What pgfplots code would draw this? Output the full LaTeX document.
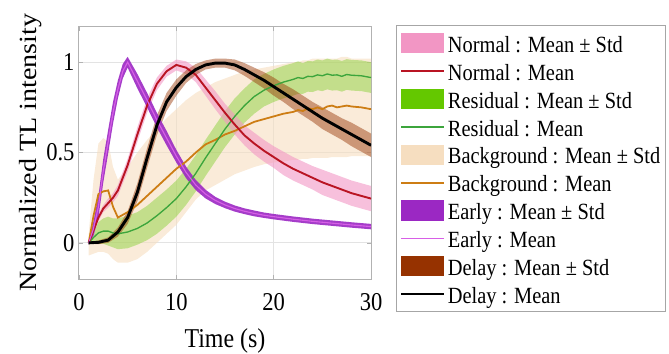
\documentclass[border=0pt]{standalone}
\usepackage{fontspec}
\setmainfont{Liberation Serif}[FakeStretch=0.88]
\newfontfamily\plainserif{Liberation Serif}
\usepackage{graphicx}
\usepackage{pgfplots}
\pgfplotsset{compat=1.18}
\usepackage{pgfplotstable}
\usepgfplotslibrary{fillbetween}

\definecolor{pinkc}{RGB}{242,150,196}
\definecolor{redc}{RGB}{185,20,35}
\definecolor{greenc}{RGB}{100,200,0}
\definecolor{greenl}{RGB}{60,165,60}
\definecolor{beigec}{RGB}{246,222,192}
\definecolor{orangel}{RGB}{205,125,20}
\definecolor{purplec}{RGB}{155,40,195}
\definecolor{earlyl}{RGB}{215,95,230}
\definecolor{brownc}{RGB}{150,50,0}

\pgfplotstableread{
t m s
1 0 0.01
1.5 0.08 0.04
2 0.2 0.06
2.5 0.4 0.065
3 0.56 0.065
3.5 0.72 0.06
4 0.85 0.05
4.5 0.95 0.04
5 1.0 0.03
6 0.895 0.04
7 0.79 0.04
8 0.68 0.04
9 0.58 0.04
10 0.48 0.035
11 0.39 0.032
12 0.32 0.028
13 0.27 0.024
14 0.235 0.02
15 0.21 0.018
16 0.19 0.017
17 0.175 0.016
18 0.163 0.016
19 0.153 0.015
20 0.145 0.015
22 0.131 0.015
24 0.119 0.015
26 0.109 0.015
28 0.099 0.015
30 0.09 0.015
}\early

\pgfplotstableread{
t m s
1 0 0.005
1.5 0.07 0.015
2 0.14 0.02
2.5 0.19 0.02
3 0.22 0.025
3.5 0.25 0.025
4 0.29 0.03
5 0.43 0.035
6 0.6 0.04
7 0.76 0.04
8 0.88 0.035
9 0.95 0.03
10 0.985 0.03
11 0.97 0.035
12 0.93 0.04
13 0.86 0.045
14 0.79 0.05
15 0.72 0.05
16 0.655 0.055
17 0.595 0.055
18 0.55 0.06
19 0.51 0.06
20 0.475 0.06
21 0.44 0.065
22 0.41 0.065
23 0.385 0.065
24 0.36 0.065
25 0.335 0.07
26 0.315 0.07
27 0.295 0.07
28 0.275 0.07
29 0.26 0.07
30 0.245 0.07
}\normal

\pgfplotstableread{
t m s
1 0 0.005
2 0.003 0.01
3 0.015 0.015
4 0.06 0.025
5 0.14 0.035
6 0.28 0.05
7 0.47 0.055
8 0.65 0.055
9 0.78 0.05
10 0.86 0.045
11 0.92 0.035
12 0.96 0.03
13 0.985 0.025
14 0.995 0.025
15 0.995 0.025
16 0.985 0.03
17 0.96 0.035
18 0.93 0.04
19 0.9 0.045
20 0.865 0.05
21 0.83 0.05
22 0.795 0.055
23 0.76 0.055
24 0.725 0.055
25 0.69 0.06
26 0.66 0.06
27 0.63 0.06
28 0.6 0.065
29 0.57 0.065
30 0.54 0.065
}\delay

\pgfplotstableread{
t m s
1 0 0.01
1.5 0.03 0.03
2 0.055 0.06
2.5 0.065 0.07
3 0.065 0.08
3.5 0.055 0.08
4 0.05 0.085
5 0.06 0.09
6 0.08 0.09
7 0.11 0.095
8 0.15 0.1
9 0.195 0.1
10 0.245 0.1
11 0.31 0.1
12 0.385 0.1
13 0.47 0.1
14 0.55 0.1
15 0.63 0.1
16 0.7 0.1
17 0.76 0.095
18 0.81 0.095
19 0.845 0.09
20 0.87 0.09
21 0.89 0.09
22 0.905 0.09
22.5 0.915 0.09
23 0.91 0.085
23.5 0.922 0.085
24 0.92 0.085
24.5 0.93 0.085
25 0.925 0.085
25.5 0.935 0.085
26 0.928 0.085
26.5 0.93 0.085
27 0.922 0.085
27.5 0.932 0.085
28 0.928 0.085
29 0.925 0.085
30 0.915 0.085
}\residual

\pgfplotstableread{
t m lo hi
1 0 -0.07 0.05
1.5 0.15 -0.06 0.35
2 0.27 -0.05 0.55
2.5 0.285 -0.05 0.58
3 0.29 -0.06 0.56
3.5 0.2 -0.09 0.42
4 0.14 -0.11 0.35
5 0.17 -0.11 0.42
6 0.21 -0.09 0.5
7 0.26 -0.05 0.57
8 0.31 0.0 0.63
9 0.36 0.05 0.69
10 0.41 0.1 0.74
11 0.45 0.17 0.79
12 0.5 0.24 0.83
13 0.545 0.29 0.86
14 0.57 0.32 0.89
15 0.6 0.35 0.91
16 0.62 0.38 0.93
17 0.645 0.4 0.95
18 0.67 0.42 0.96
19 0.685 0.435 0.97
20 0.7 0.445 0.98
21 0.715 0.45 0.99
22 0.725 0.46 1.0
22.5 0.735 0.46 1.0
23 0.73 0.465 1.01
23.5 0.745 0.465 1.01
24 0.74 0.47 1.02
24.5 0.75 0.47 1.02
25 0.74 0.47 1.02
25.5 0.755 0.47 1.02
26 0.76 0.475 1.02
26.5 0.75 0.475 1.02
27 0.755 0.475 1.03
27.5 0.76 0.475 1.03
28 0.755 0.48 1.02
29 0.75 0.48 1.02
30 0.74 0.48 1.02
}\background

\pgfplotsset{
  bandleg/.style={legend image code/.code={\fill[##1, fill opacity=1, draw=none] (0pt,-4.5pt) rectangle (19.3pt,4.5pt);}},
  lineleg/.style={legend image code/.code={\draw[##1] (0pt,0pt) -- (19.3pt,0pt);}},
}

\begin{document}
\begin{tikzpicture}
\begin{axis}[
  scale only axis, width=131pt, height=113.4pt,
  xmin=0, xmax=30, ymin=-0.2, ymax=1.2,
  xtick={0,10,20,30}, ytick={0,0.5,1},
  yticklabels={0,0.5,1},
  grid=major, grid style={gray!22, line width=0.4pt},
  axis line style={gray!60},
  tick align=inside, major tick length=2pt, tick style={gray!60},
  ticklabel style={font=\fontsize{11.5}{13}\selectfont},
  xticklabel style={inner sep=0pt, anchor=north, yshift=-6.3pt},
  yticklabel style={inner sep=0pt, anchor=east, xshift=-1.8pt},
  /pgf/number format/assume math mode=true,
  xlabel={Time (s)}, ylabel={\scalebox{1}[0.88]{\plainserif Normalized TL intensity}},
  xlabel style={font=\fontsize{12.2}{14}\selectfont, at={(axis description cs:0.5,-0.269)}, anchor=base, inner sep=0pt},
  ylabel style={font=\fontsize{12.6}{14}\selectfont, at={(axis description cs:-0.127,0.5)}, anchor=south, inner sep=0pt},
  legend cell align=left,
  legend style={at={(1.0855,1.004)}, anchor=north west, draw=gray!70, line width=0.5pt,
    fill=white, inner xsep=1.5pt, inner ysep=1.8pt, row sep=0.3pt,
    font=\fontsize{10.4}{12}\selectfont,
    nodes={inner xsep=1pt, inner ysep=0.5pt, text height=9.7pt, text depth=1.5pt}},
]
% background band
\addplot[name path=bu, draw=none, forget plot] table[x=t,y=hi]{\background};
\addplot[name path=bl, draw=none, forget plot] table[x=t,y=lo]{\background};
\addplot[fill=beigec, fill opacity=0.6, draw=none, forget plot] fill between[of=bu and bl];
% residual band
\addplot[name path=ru, draw=none, forget plot] table[x=t,y expr=\thisrow{m}+\thisrow{s}]{\residual};
\addplot[name path=rl, draw=none, forget plot] table[x=t,y expr=\thisrow{m}-\thisrow{s}]{\residual};
\addplot[fill=greenc, fill opacity=0.36, draw=none, forget plot] fill between[of=ru and rl];
% normal band
\addplot[name path=nu, draw=none, forget plot] table[x=t,y expr=\thisrow{m}+\thisrow{s}]{\normal};
\addplot[name path=nl, draw=none, forget plot] table[x=t,y expr=\thisrow{m}-\thisrow{s}]{\normal};
\addplot[fill=pinkc, fill opacity=0.6, draw=none, forget plot] fill between[of=nu and nl];
% delay band
\addplot[name path=du, draw=none, forget plot] table[x=t,y expr=\thisrow{m}+\thisrow{s}]{\delay};
\addplot[name path=dl, draw=none, forget plot] table[x=t,y expr=\thisrow{m}-\thisrow{s}]{\delay};
\addplot[fill=brownc, fill opacity=0.45, draw=none, forget plot] fill between[of=du and dl];
% early band
\addplot[name path=eu, draw=none, forget plot] table[x=t,y expr=\thisrow{m}+\thisrow{s}]{\early};
\addplot[name path=el, draw=none, forget plot] table[x=t,y expr=\thisrow{m}-\thisrow{s}]{\early};
\addplot[fill=purplec, fill opacity=0.9, draw=none, forget plot] fill between[of=eu and el];
% mean lines
\addplot[orangel, line width=0.8pt, forget plot] table[x=t,y=m]{\background};
\addplot[greenl, line width=0.6pt, forget plot] table[x=t,y=m]{\residual};
\addplot[redc, line width=0.85pt, forget plot] table[x=t,y=m]{\normal};
\addplot[earlyl, line width=0.5pt, forget plot] table[x=t,y=m]{\early};
\addplot[black, line width=1.3pt, forget plot] table[x=t,y=m]{\delay};
% legend
\addlegendimage{bandleg, fill=pinkc}
\addlegendentry{Normal : Mean ± Std}
\addlegendimage{lineleg, redc, line width=0.9pt}
\addlegendentry{Normal : Mean}
\addlegendimage{bandleg, fill=greenc}
\addlegendentry{Residual : Mean ± Std}
\addlegendimage{lineleg, greenl, line width=0.6pt}
\addlegendentry{Residual : Mean}
\addlegendimage{bandleg, fill=beigec}
\addlegendentry{Background : Mean ± Std}
\addlegendimage{lineleg, orangel, line width=0.8pt}
\addlegendentry{Background : Mean}
\addlegendimage{bandleg, fill=purplec}
\addlegendentry{Early : Mean ± Std}
\addlegendimage{lineleg, earlyl, line width=0.6pt}
\addlegendentry{Early : Mean}
\addlegendimage{bandleg, fill=brownc}
\addlegendentry{Delay : Mean ± Std}
\addlegendimage{lineleg, black, line width=1.2pt}
\addlegendentry{Delay : Mean}
\end{axis}
\pgfresetboundingbox
\path[use as bounding box] (-35.4pt,-33.6pt) rectangle (264.6pt,125.1pt);
\end{tikzpicture}
\end{document}
